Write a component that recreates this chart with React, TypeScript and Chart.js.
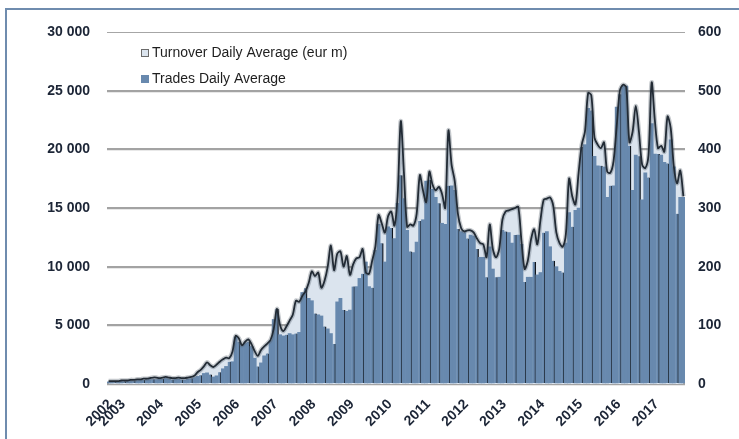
import React, { useEffect, useRef } from 'react';
import { Chart, registerables } from 'chart.js';

Chart.register(...registerables);

const FONT = '"Liberation Sans", Arial, Helvetica, sans-serif';

// Monthly data, September 2002 -> October 2017
const START_YEAR = 2002;
const START_MONTH = 9;

// Turnover Daily Average (eur m) — right axis
const turnover = [
  5, 5, 5, 5,
  6, 6, 6, 7, 7, 8, 8, 9, 9, 10, 11, 11,
  10, 11, 12, 11, 10, 10, 11, 10, 10, 11, 12, 14,
  20, 24, 30, 37, 32, 29, 33, 38, 42, 45, 44, 55,
  82, 78, 66, 72, 76, 68, 56, 48, 58, 64, 69, 75,
  94, 128, 100, 90, 98, 108, 118, 142, 140, 150, 158, 172,
  192, 184, 190, 164, 176, 200, 236, 194, 222, 226, 200, 218,
  186, 204, 214, 216, 230, 190, 188, 210, 234, 288, 274, 258,
  286, 294, 270, 320, 448, 360, 268, 272, 270, 290, 356, 330,
  310, 362, 340, 330, 336, 324, 300, 432, 374, 346, 290, 266,
  260, 262, 262, 258, 248, 240, 238, 216, 272, 230, 216, 230,
  280, 294, 296, 298, 300, 302, 244, 196, 210, 246, 264, 238,
  280, 314, 316, 318, 304, 258, 240, 234, 256, 350, 320, 306,
  360, 408, 430, 496, 492, 420, 408, 402, 412, 362, 360, 380,
  440, 500, 510, 506, 412, 430, 474, 430, 374, 368, 390, 514,
  450, 402, 406, 396, 456, 436, 370, 342, 364, 320,
];

// Trades Daily Average — left axis
const trades = [
  180, 200, 190, 210,
  220, 230, 250, 260, 280, 300, 320, 340, 360, 380, 400, 380,
  420, 450, 480, 420, 380, 400, 420, 380, 350, 420, 480, 550,
  650, 750, 900, 950, 800, 600, 700, 1000, 1300, 1500, 1900, 1900,
  4000, 3600, 3300, 3500, 3600, 3200, 2200, 1500, 1800, 2400, 2600, 3700,
  5500, 6400, 4200, 4100, 4200, 4300, 4200, 4300, 4400, 7800, 8150, 7300,
  7100, 6000, 5900, 5800, 4900, 4700, 4300, 3400, 7000, 7300, 6300, 6200,
  6300, 8300, 8300, 9000, 9400, 10400, 8300, 8200, 11400, 13600, 12000, 10400,
  13400, 13300, 12400, 15400, 17800, 15800, 13100, 11300, 11200, 12100, 13900, 14000,
  17300, 17400, 16600, 15900, 15400, 13700, 13600, 16900, 16900, 16500, 13200, 13000,
  12900, 12400, 12700, 12600, 11500, 10800, 10800, 9100, 11700, 9800, 9100, 9100,
  13100, 13000, 12900, 12000, 12700, 12700, 11900, 8700, 9100, 9100, 10400, 9300,
  9500, 12900, 13000, 11700, 10500, 10000, 9600, 9500, 12000, 14600, 13400, 14800,
  15000, 20200, 20400, 23500, 23300, 19400, 18600, 18600, 18500, 15900, 16900, 16900,
  23600, 24700, 25400, 25400, 20300, 16500, 19500, 19400, 15700, 18000, 17600, 22200,
  19600, 19600, 19500, 18900, 18800, 20800, 18500, 14500, 15900, 15900,
];

const categories = trades.map((_, i) => {
  const m = START_MONTH - 1 + i;
  return `${START_YEAR + Math.floor(m / 12)}-${String((m % 12) + 1).padStart(2, '0')}`;
});
const yearTicks = categories.map((c, i) => (i === 0 || c.endsWith('-01') ? c.slice(0, 4) : ''));

const legendLabels = ['Turnover Daily Average (eur m)', 'Trades Daily Average'];

const AREA_COLOR = '#dbe4ee';
const BAR_COLOR = '#6889ae';
const LINE_COLOR = '#222b35';
const TEXT_COLOR = '#1c2536';

const fmtThousands = (v: number) => String(v).replace(/\B(?=(\d{3})+(?!\d))/g, ' ');

const legendPlugin = {
  id: 'insideLegend',
  afterDraw(chart: any) {
    const { ctx, chartArea } = chart;
    const { left, top } = chartArea;
    ctx.save();
    ctx.font = `14px ${FONT}`;
    ctx.textBaseline = 'middle';
    ctx.textAlign = 'left';
    const fills = [AREA_COLOR, BAR_COLOR];
    const strokes = ['#6a6a6a', BAR_COLOR];
    legendLabels.forEach((label, k) => {
      const bx = left + 34;
      const by = top + 17 + k * 26;
      ctx.fillStyle = fills[k];
      ctx.fillRect(bx, by, 8, 8);
      ctx.strokeStyle = strokes[k];
      ctx.lineWidth = 1;
      ctx.strokeRect(bx + 0.5, by + 0.5, 7, 7);
      ctx.fillStyle = '#1e1e1e';
      ctx.fillText(label, left + 45, by + 4.5);
    });
    ctx.restore();
  },
};

export default function App() {
  const canvasRef = useRef<HTMLCanvasElement | null>(null);

  useEffect(() => {
    if (!canvasRef.current) return;
    const chart = new Chart(canvasRef.current, {
      type: 'bar',
      data: {
        labels: categories,
        datasets: [
          {
            type: 'line',
            label: legendLabels[0],
            data: turnover,
            yAxisID: 'y1',
            fill: 'origin',
            backgroundColor: AREA_COLOR,
            borderWidth: 0,
            pointRadius: 0,
            tension: 0.3,
            order: 4,
          } as any,
          {
            type: 'bar',
            label: legendLabels[1],
            data: trades,
            yAxisID: 'y',
            backgroundColor: BAR_COLOR,
            borderColor: '#0f141b',
            borderWidth: (c: any) => (c.dataIndex % 3 === 2 ? { top: 0, left: 0, bottom: 0, right: 1.3 } : 0),
            borderSkipped: 'start',
            barPercentage: 1,
            categoryPercentage: 1,
            order: 3,
          } as any,
          {
            type: 'line',
            label: 'halo',
            data: turnover,
            yAxisID: 'y1',
            fill: false,
            borderColor: 'rgba(90,100,112,0.35)',
            borderWidth: 4.5,
            pointRadius: 0,
            tension: 0.3,
            order: 2,
          } as any,
          {
            type: 'line',
            label: 'line',
            data: turnover,
            yAxisID: 'y1',
            fill: false,
            borderColor: LINE_COLOR,
            borderWidth: 1.8,
            pointRadius: 0,
            tension: 0.3,
            order: 1,
          } as any,
        ],
      },
      options: {
        responsive: false,
        maintainAspectRatio: false,
        animation: false,
        events: [],
        layout: { padding: { top: 32, left: 0, right: 0, bottom: 0 } },
        plugins: {
          legend: { display: false },
          tooltip: { enabled: false },
        },
        scales: {
          x: {
            grid: { display: false },
            border: { display: false },
            ticks: {
              autoSkip: false,
              minRotation: 45,
              maxRotation: 45,
              padding: 4,
              labelOffset: 2,
              color: TEXT_COLOR,
              font: { family: FONT, size: 14, weight: 'bold' },
              callback: (_v: any, i: number) => yearTicks[i],
            },
            afterFit: (s: any) => {
              s.height = 55;
            },
          },
          y: {
            position: 'left',
            min: 0,
            max: 30000,
            ticks: {
              stepSize: 5000,
              padding: 17,
              color: TEXT_COLOR,
              font: { family: FONT, size: 14, weight: 'bold' },
              callback: (v: any) => fmtThousands(Number(v)),
            },
            grid: {
              drawTicks: false,
              color: (c: any) => (c.tick && c.tick.value === 30000 ? '#a6a6a6' : '#a3a3a3'),
              lineWidth: (c: any) => (c.tick && c.tick.value === 30000 ? 1 : 2.2),
            },
            border: { display: false },
            afterFit: (s: any) => {
              s.width = 107;
            },
          },
          y1: {
            position: 'right',
            min: 0,
            max: 600,
            ticks: {
              stepSize: 100,
              padding: 13,
              color: TEXT_COLOR,
              font: { family: FONT, size: 14, weight: 'bold' },
            },
            grid: { drawOnChartArea: false, drawTicks: false },
            border: { display: false },
            afterFit: (s: any) => {
              s.width = 54;
            },
          },
        },
      } as any,
      plugins: [legendPlugin],
    });
    return () => chart.destroy();
  }, []);

  return (
    <div style={{ position: 'fixed', left: 0, top: 0, width: 739, height: 439, overflow: 'hidden', background: '#fff' }}>
      <div
        style={{
          position: 'absolute',
          left: 5,
          top: 8,
          width: 800,
          height: 500,
          borderTop: '2px solid #6f8cae',
          borderLeft: '2px solid #6f8cae',
        }}
      />
      <canvas ref={canvasRef} width={739} height={439} style={{ position: 'absolute', left: 0, top: 0, width: 739, height: 439 }} />
    </div>
  );
}
